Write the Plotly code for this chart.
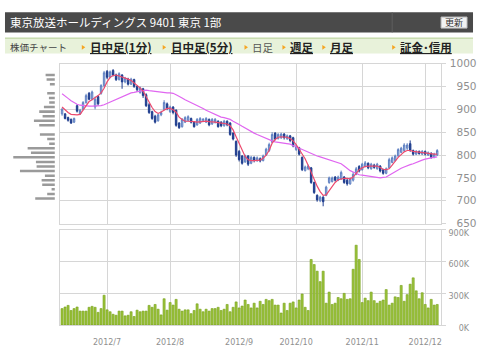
import plotly.graph_objects as go

# ---------------- data ----------------
title_text = "東京放送ホールディングス 9401 東京 1部"
nav_items = ["日中足(1分)", "日中足(5分)", "日足", "週足", "月足", "証金･信用"]
nav_bold = [True, True, False, True, True, True]

opens = [890, 890, 882, 878, 872, 908, 890, 900, 915, 935, 922, 905, 928, 935, 952, 983, 970, 985, 975, 965,
         975, 960, 966, 955, 965, 950, 937, 945, 932, 910, 895, 885, 875, 888, 900, 912, 895, 905, 898, 870,
         862, 872, 876, 880, 872, 866, 870, 876, 872, 878, 868, 872, 874, 872, 864, 874, 870, 848, 830, 808,
         798, 785, 798, 782, 795, 788, 792, 788, 800, 810, 828, 848, 836, 838, 846, 836, 842, 838, 812, 816,
         795, 766, 770, 772, 740, 712, 700, 708, 712, 740, 742, 752, 745, 748, 752, 745, 737, 745, 758, 775,
         768, 775, 782, 770, 778, 770, 776, 768, 760, 772, 784, 788, 798, 806, 810, 815, 825, 810, 802, 808,
         802, 808, 800, 804, 795, 800]
closes = [900, 880, 876, 870, 880, 896, 898, 915, 930, 922, 938, 922, 912, 952, 980, 970, 982, 975, 965, 978,
          960, 968, 955, 966, 950, 943, 947, 930, 908, 893, 880, 872, 888, 893, 915, 903, 905, 893, 865, 860,
          878, 882, 884, 872, 862, 878, 880, 878, 880, 866, 878, 878, 862, 864, 874, 866, 845, 835, 800, 790,
          782, 798, 780, 795, 788, 794, 787, 798, 813, 823, 845, 835, 845, 846, 838, 842, 832, 820, 820, 802,
          768, 774, 776, 740, 718, 702, 708, 698, 730, 750, 750, 745, 752, 762, 740, 737, 748, 758, 770, 765,
          780, 783, 772, 780, 773, 780, 765, 760, 770, 790, 794, 798, 812, 815, 822, 822, 810, 802, 808, 803,
          808, 802, 805, 795, 802, 810]
highs = [903, 892, 884, 880, 882, 911, 901, 918, 934, 938, 941, 928, 930, 955, 984, 986, 985, 988, 978, 981,
         977, 971, 969, 969, 967, 952, 950, 947, 935, 914, 897, 888, 891, 897, 920, 915, 908, 907, 900, 872,
         881, 885, 887, 882, 874, 881, 883, 881, 883, 880, 881, 881, 876, 874, 877, 876, 872, 850, 832, 811,
         800, 801, 800, 798, 797, 797, 795, 801, 816, 827, 850, 850, 848, 849, 848, 845, 844, 840, 823, 818,
         797, 777, 779, 774, 742, 714, 711, 710, 733, 753, 753, 754, 755, 766, 754, 748, 751, 763, 774, 778,
         783, 787, 784, 783, 781, 783, 778, 770, 773, 794, 797, 801, 815, 818, 826, 826, 832, 812, 811, 810,
         811, 810, 808, 806, 805, 813]
lows = [886, 878, 873, 868, 870, 893, 888, 898, 912, 920, 920, 900, 908, 932, 948, 966, 968, 972, 962, 963,
        945, 957, 952, 953, 947, 938, 934, 925, 905, 890, 877, 869, 873, 885, 898, 898, 892, 889, 862, 857,
        860, 870, 874, 869, 860, 864, 868, 872, 870, 863, 866, 869, 860, 861, 862, 863, 842, 832, 796, 786,
        779, 783, 776, 780, 784, 785, 784, 786, 798, 807, 826, 832, 834, 835, 834, 833, 828, 817, 809, 799,
        765, 764, 767, 737, 715, 698, 697, 688, 710, 737, 740, 742, 743, 746, 737, 733, 735, 742, 756, 762,
        766, 773, 769, 768, 770, 768, 762, 757, 758, 770, 782, 786, 796, 804, 807, 811, 807, 799, 800, 801,
        800, 799, 798, 792, 793, 798]
ma_short = [905, 898, 893, 889, 888, 888, 889, 899, 910, 917, 921, 925, 930, 936, 946, 960, 970, 974, 975, 973,
            971, 968, 966, 963, 958, 953, 947, 940, 928, 915, 904, 895, 891, 894, 899, 902, 902, 899, 894, 883,
            878, 874, 874, 874, 873, 872, 873, 874, 874, 873, 873, 872, 871, 870, 870, 868, 864, 855, 840, 826,
            810, 797, 790, 788, 788, 788, 789, 793, 800, 810, 826, 834, 839, 840, 840, 839, 836, 831, 823, 813,
            802, 792, 778, 762, 746, 732, 720, 712, 713, 722, 732, 740, 746, 748, 749, 749, 748, 752, 760, 768,
            772, 775, 776, 776, 776, 776, 773, 769, 768, 770, 778, 787, 795, 801, 807, 810, 810, 808, 807, 806,
            805, 804, 803, 802, 802, 802]
ma_long = [934, 928, 924, 919, 915, 911, 909, 908, 907, 907, 907, 907, 907, 908, 910, 913, 916, 919, 922, 925,
           928, 931, 934, 936, 937, 939, 940, 941, 942, 941, 940, 939, 938, 938, 937, 936, 936, 935, 932, 929,
           925, 921, 918, 915, 911, 908, 905, 902, 898, 895, 892, 889, 886, 883, 882, 880, 878, 874, 871, 867,
           863, 859, 855, 851, 848, 845, 842, 839, 836, 833, 831, 829, 828, 827, 826, 825, 824, 821, 818, 815,
           812, 809, 806, 803, 800, 798, 796, 794, 792, 790, 788, 786, 784, 781, 776, 770, 766, 763, 760, 757,
           756, 755, 754, 752, 751, 750, 750, 751, 752, 756, 760, 764, 767, 771, 774, 777, 779, 781, 784, 787,
           789, 791, 793, 794, 795, 796]
volume_k = [156, 171, 186, 138, 156, 171, 132, 132, 132, 168, 177, 168, 120, 156, 282, 144, 126, 102, 93, 132,
            132, 87, 93, 126, 81, 141, 126, 132, 132, 186, 168, 195, 150, 96, 249, 141, 213, 189, 243, 150,
            132, 144, 144, 108, 138, 201, 150, 126, 150, 132, 156, 156, 168, 138, 150, 195, 126, 168, 219, 162,
            180, 237, 195, 162, 207, 162, 225, 195, 243, 231, 243, 189, 189, 114, 207, 138, 207, 219, 162, 237,
            294, 168, 138, 621, 573, 510, 411, 510, 207, 312, 195, 207, 261, 249, 300, 243, 249, 528, 756, 621,
            213, 255, 231, 312, 231, 207, 225, 237, 336, 189, 207, 267, 261, 375, 225, 288, 387, 447, 324, 249,
            306, 195, 162, 243, 189, 195]
# volume-at-price profile (relative amounts)
vp_price = [975, 965, 955, 935, 925, 915, 905, 895, 885, 875, 865, 845, 835, 825, 815, 805, 795, 785, 775,
            765, 755, 745, 735, 725, 715, 705]
vp_value = [9.3, 8.3, 5.0, 7.7, 6.0, 5.7, 11.0, 15.7, 12.3, 21.0, 15.7, 15.0, 7.7, 5.7, 27.3, 24.0, 41.7, 19.0,
            18.3, 35.0, 10.0, 13.3, 12.7, 3.3, 7.7, 19.7]
month_tick_idx = [15, 36, 59, 78, 100, 121]
month_tick_text = ["2012/7", "2012/8", "2012/9", "2012/10", "2012/11", "2012/12"]
price_ticks = [650, 700, 750, 800, 850, 900, 950, 1000]
vol_ticks = [0, 300000, 600000, 900000]
vol_tick_text = ["0K", "300K", "600K", "900K"]

# ---------------- layout helpers ----------------
W, H = 480, 351
def fx(x): return x / W
def fy(y): return 1 - y / H

days = list(range(len(closes)))
XR = [-0.73, 126.3]
GRID = "#d6d6d6"
LBL = "#8f8f8f"
NUMF = "DejaVu Sans"
JPF = "Noto Sans CJK JP"

fig = go.Figure()

fig.add_trace(go.Bar(x=vp_value, y=vp_price, orientation="h", xaxis="x3", yaxis="y3",
                     marker=dict(color="#9a9a9a", line=dict(width=0)), width=5.5,
                     hoverinfo="skip", showlegend=False))
fig.add_trace(go.Candlestick(x=days, open=opens, high=highs, low=lows, close=closes,
                             xaxis="x", yaxis="y",
                             increasing=dict(line=dict(color="#5f80c2", width=1), fillcolor="#a3b8e2"),
                             decreasing=dict(line=dict(color="#1f3d8e", width=1), fillcolor="#1f3d8e"),
                             whiskerwidth=0, hoverinfo="skip", showlegend=False))
fig.add_trace(go.Scatter(x=days, y=ma_long, mode="lines", line=dict(color="#e066f0", width=1.2),
                         xaxis="x", yaxis="y", hoverinfo="skip", showlegend=False))
fig.add_trace(go.Scatter(x=days, y=ma_short, mode="lines", line=dict(color="#ec4a6e", width=1.2),
                         xaxis="x", yaxis="y", hoverinfo="skip", showlegend=False))
fig.add_trace(go.Bar(x=days, y=[v * 1000 for v in volume_k], xaxis="x2", yaxis="y2",
                     marker=dict(color="#9cc43c", line=dict(color="#76a01a", width=0.6)),
                     hoverinfo="skip", showlegend=False))
# helper traces for the frame / tick-mark axes
fig.add_trace(go.Scatter(x=[None], y=[None], xaxis="x", yaxis="y4", showlegend=False, hoverinfo="skip"))
fig.add_trace(go.Scatter(x=[None], y=[None], xaxis="x2", yaxis="y5", showlegend=False, hoverinfo="skip"))

PX0, PX1 = fx(60), fx(442)
PY = [fy(226.7), fy(60)]
VY = [fy(332.3), fy(233.3)]

xcommon = dict(range=XR, tickmode="array", tickvals=month_tick_idx, showgrid=True, gridcolor=GRID,
               gridwidth=1, zeroline=False, showline=True, mirror=True, linecolor=GRID, ticks="",
               fixedrange=True)
fig.update_layout(
    width=W, height=H, margin=dict(l=0, r=0, t=0, b=0),
    paper_bgcolor="white", plot_bgcolor="white", showlegend=False, hovermode=False,
    bargap=0.3,
    xaxis=dict(domain=[PX0, PX1], showticklabels=False, rangeslider=dict(visible=False), **xcommon),
    xaxis2=dict(domain=[PX0, PX1], anchor="y2", showticklabels=True, ticktext=month_tick_text,
                tickfont=dict(family=NUMF, size=8, color=LBL), ticklabelstandoff=9, **xcommon),
    xaxis3=dict(domain=[0, fx(55)], anchor="y3", range=[55, 0], visible=False, fixedrange=True),
    yaxis=dict(domain=PY, range=[650, 1000], anchor="free", position=fx(477.5), side="left",
               tickmode="array", tickvals=price_ticks, showgrid=True, gridcolor=GRID, gridwidth=1,
               zeroline=False, showline=False, ticks="",
               tickfont=dict(family=NUMF, size=10.5, color=LBL), fixedrange=True),
    yaxis4=dict(domain=PY, range=[650, 1000], anchor="x", overlaying="y", side="right",
                tickmode="array", tickvals=price_ticks, showgrid=False, zeroline=False,
                showline=True, mirror=True, linecolor=GRID, ticks="outside", ticklen=4,
                tickcolor=GRID, showticklabels=False, fixedrange=True),
    yaxis2=dict(domain=VY, range=[0, 900000], anchor="free", position=fx(470), side="left",
                tickmode="array", tickvals=vol_ticks, ticktext=vol_tick_text, showgrid=True,
                gridcolor=GRID, gridwidth=1, zeroline=False, showline=False, ticks="",
                ticklabelshift=3,
                tickfont=dict(family=NUMF, size=8, color=LBL), fixedrange=True),
    yaxis5=dict(domain=VY, range=[0, 900000], anchor="x2", overlaying="y2", side="right",
                tickmode="array", tickvals=vol_ticks, showgrid=False, zeroline=False,
                showline=True, mirror=True, linecolor=GRID, ticks="outside", ticklen=4,
                tickcolor=GRID, showticklabels=False, fixedrange=True),
    yaxis3=dict(domain=PY, range=[650, 1000], anchor="x3", visible=False, fixedrange=True),
)

shapes = []
annotations = []
# header bar
shapes.append(dict(type="rect", xref="paper", yref="paper", x0=fx(5), x1=fx(474), y0=fy(27.5), y1=fy(6.5),
                   fillcolor="#4a4a4a", line=dict(width=0), layer="below"))
shapes.append(dict(type="line", xref="paper", yref="paper", x0=fx(393), x1=fx(393), y0=fy(27.5), y1=fy(6.5),
                   line=dict(color="#5e5e5e", width=1)))
# refresh button
shapes.append(dict(type="rect", xref="paper", yref="paper", x0=fx(442), x1=fx(468), y0=fy(23), y1=fy(11.5),
                   fillcolor="#f2f2f2", line=dict(color="#bdbdbd", width=1)))
annotations.append(dict(text="更新", x=fx(455), y=fy(17.3), xref="paper", yref="paper", showarrow=False,
                        xanchor="center", yanchor="middle", font=dict(family=JPF, size=9, color="#333")))
annotations.append(dict(text=title_text, x=fx(8), y=fy(17), xref="paper", yref="paper", showarrow=False,
                        xanchor="left", yanchor="middle", font=dict(family=JPF, size=11.5, color="white")))
# nav bar
shapes.append(dict(type="rect", xref="paper", yref="paper", x0=fx(5), x1=fx(474), y0=fy(49.5), y1=fy(33),
                   fillcolor="#e8f2da", line=dict(width=0), layer="below"))
shapes.append(dict(type="line", xref="paper", yref="paper", x0=fx(5), x1=fx(474), y0=fy(33.5), y1=fy(33.5),
                   line=dict(color="#c9dcb0", width=1.5)))
annotations.append(dict(text="株価チャート", x=fx(8), y=fy(43), xref="paper", yref="paper", showarrow=False,
                        xanchor="left", yanchor="middle", font=dict(family=JPF, size=9.5, color="#444")))
bullet_x = [82, 163, 245, 283, 323, 393]
for bx, label, bold in zip(bullet_x, nav_items, nav_bold):
    path = "M {} {} L {} {} L {} {} Z".format(fx(bx), fy(40.5), fx(bx), fy(45.5), fx(bx + 3.5), fy(43))
    shapes.append(dict(type="path", xref="paper", yref="paper", path=path,
                       fillcolor="#f5a623", line=dict(width=0)))
    font = dict(family=JPF, size=11.5 if bold else 10.5, color="#222" if bold else "#555",
                weight="bold" if bold else "normal")
    if bold:
        font["lineposition"] = "under"
    annotations.append(dict(text=label, x=fx(bx + 6), y=fy(43), xref="paper", yref="paper",
                            showarrow=False, xanchor="left", yanchor="middle", font=font))

fig.update_layout(shapes=shapes, annotations=annotations)
fig.write_html("out.html")
